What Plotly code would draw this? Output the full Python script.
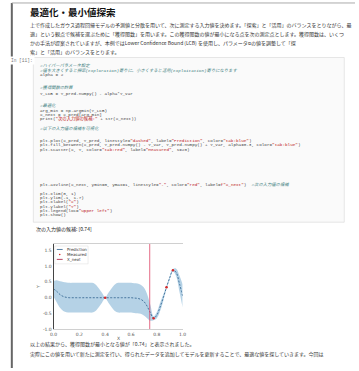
import re
import plotly.graph_objects as go

W, H = 359, 371

# ---------------- data ----------------
X_PRED = [0.0, 0.025, 0.05, 0.075, 0.1, 0.125, 0.15, 0.175, 0.2, 0.225,
          0.25, 0.275, 0.3, 0.325, 0.35, 0.375, 0.4, 0.425, 0.45, 0.475,
          0.5, 0.525, 0.55, 0.575, 0.6, 0.625, 0.65, 0.675, 0.7, 0.725,
          0.75, 0.775, 0.8, 0.825, 0.85, 0.875, 0.9, 0.925, 0.95, 0.975, 1.0]
Y_MEAN = [0.28, 0.20, 0.10, 0.04, 0.01, 0.0, 0.0, 0.0, 0.0, 0.0,
          0.0, 0.0, 0.0, 0.0, 0.0, 0.0, 0.0, 0.0, 0.0, 0.0,
          0.0, 0.0, 0.0, 0.0, 0.0, -0.01, -0.02, -0.05, -0.12, -0.27,
          -0.48, -0.65, -0.55, -0.30, 0.0, 0.33, 0.63, 0.87, 0.80, 0.45, 0.06]
Y_VAR = [0.25, 0.35, 0.42, 0.46, 0.47, 0.47, 0.47, 0.47, 0.47, 0.47,
         0.47, 0.47, 0.47, 0.42, 0.30, 0.16, 0.02, 0.16, 0.30, 0.42,
         0.47, 0.47, 0.47, 0.47, 0.47, 0.47, 0.47, 0.46, 0.44, 0.38,
         0.25, 0.06, 0.10, 0.13, 0.10, 0.05, 0.05, 0.04, 0.12, 0.25, 0.37]
X_MEASURED = [0.4, 0.775, 0.875, 0.925]
Y_MEASURED = [0.0, -0.65, 0.33, 0.87]
X_NEXT = 0.745

X_TICKS = [0.0, 0.2, 0.4, 0.6, 0.8, 1.0]
X_TICK_LABELS = ["0.0", "0.2", "0.4", "0.6", "0.8", "1.0"]
Y_TICKS = [-1.0, -0.5, 0.0, 0.5, 1.0, 1.5]
Y_TICK_LABELS = ["-1.0", "-0.5", "0.0", "0.5", "1.0", "1.5"]
LEGEND_LABELS = ["Prediction", "Measured", "X_next"]

TITLE = "最適化・最小値探索"
INTRO_LINES = [
    "上で作成したガウス過程回帰モデルの予測値と分散を用いて、次に測定する入力値を決めます。「探索」と「活用」のバランスをとりながら、最",
    "適」という観点で候補を選ぶために「獲得関数」を用います。この獲得関数の値が最小になる点を次の測定点とします。獲得関数は、いくつ",
    "かの手法が提案されていますが、本例ではLower Confidence Bound (LCB) を使用し、パラメータαの値を調整して「探",
    "索」と「活用」のバランスをとります。",
]
PROMPT = "In [11]:"
CODE_LINES = [
    "#ハイパーパラメータ設定",
    "#値を大きくすると探索(exploration)寄りに、小さくすると活用(exploitation)寄りになります",
    "alpha = 2",
    "#獲得関数の計算",
    "Y_LCB = Y_pred.numpy() - alpha*Y_var",
    "#最適化",
    "arg_min = np.argmin(Y_LCB)",
    "X_next = X_pred[arg_min]",
    "print(\"次の入力値の候補:\" + str(X_next))",
    "#以下の入力値の候補を可視化",
    "plt.plot(X_pred, Y_pred, linestyle=\"dashed\", label=\"Prediction\", color=\"tab:blue\")",
    "plt.fill_between(X_pred, Y_pred.numpy() - Y_var, Y_pred.numpy() + Y_var, alpha=0.3, color=\"tab:blue\")",
    "plt.scatter(X, Y, color=\"tab:red\", label=\"Measured\", s=20)",
    "plt.axvline(X_next, ymin=0, ymax=1, linestyle=\"-\", color=\"red\", label=f\"X_next\")  #次の入力値の候補",
    "plt.xlim(0, 1)",
    "plt.ylim(-1, 1.7)",
    "plt.xlabel(\"X\")",
    "plt.ylabel(\"Y\")",
    "plt.legend(loc=\"upper left\")",
    "plt.show()",
]
OUTPUT_TEXT = "次の入力値の候補: [0.74]"
OUTRO_LINES = [
    "以上の結果から、獲得関数が最小となる値が「0.74」と表示されました。",
    "実際にこの値を用いて新たに測定を行い、得られたデータを追加してモデルを更新することで、最適な値を探していきます。今回は",
]

# ---------------- layout helpers (pixel -> paper) ----------------
def P(px):
    return px / W


def Q(py):
    return 1 - py / H


CODE_Y = [66.5, 70.8, 75.0, 88.0, 94.5, 106.5, 111.0, 115.0, 119.3, 130.0,
          141.7, 146.0, 150.3, 185.7, 195.0, 199.3, 203.3, 207.7, 212.0, 216.7]

MONO = "Liberation Mono, Noto Sans CJK JP, monospace"
SANS = "Noto Sans CJK JP, Noto Sans, sans-serif"


def highlight(line):
    if line.lstrip().startswith("#"):
        return "<span style='color:#408080'><i>%s</i></span>" % line
    out = []
    pos = 0
    for m in re.finditer(r'f?"[^"]*"|#.*$', line):
        out.append(line[pos:m.start()])
        tok = m.group(0)
        if tok.startswith("#"):
            out.append("<span style='color:#408080'><i>%s</i></span>" % tok)
        else:
            out.append("<span style='color:#BA2121'>%s</span>" % tok)
        pos = m.end()
    out.append(line[pos:])
    return "".join(out)


# ---------------- figure ----------------
upper = [m + v for m, v in zip(Y_MEAN, Y_VAR)]
lower = [m - v for m, v in zip(Y_MEAN, Y_VAR)]

fig = go.Figure()
fig.add_trace(go.Scatter(x=X_PRED, y=upper, mode="lines", line=dict(width=0, shape="spline"),
                         showlegend=False, hoverinfo="skip"))
fig.add_trace(go.Scatter(x=X_PRED, y=lower, mode="lines", line=dict(width=0, shape="spline"),
                         fill="tonexty", fillcolor="rgba(31,119,180,0.33)",
                         showlegend=False, hoverinfo="skip"))
fig.add_trace(go.Scatter(x=X_PRED, y=Y_MEAN, mode="lines",
                         line=dict(color="#2a5d8a", width=0.8, dash="2px,1.5px", shape="spline"),
                         name=LEGEND_LABELS[0], showlegend=False))
fig.add_trace(go.Scatter(x=X_MEASURED, y=Y_MEASURED, mode="markers",
                         marker=dict(color="#d62728", size=2.5), name=LEGEND_LABELS[1], showlegend=False))
fig.add_trace(go.Scatter(x=[X_NEXT, X_NEXT], y=[-1, 1.7], mode="lines",
                         line=dict(color="#dd4466", width=0.8), name=LEGEND_LABELS[2], showlegend=False))

ax_l, ax_r, ax_t, ax_b = 50.7, 182.7, 246.0, 332.0

fig.update_layout(
    width=W, height=H, margin=dict(l=0, r=0, t=0, b=0),
    paper_bgcolor="white", plot_bgcolor="white",
    showlegend=False,
    xaxis=dict(domain=[P(ax_l), P(ax_r)], range=[0, 1], tickvals=X_TICKS, ticktext=X_TICK_LABELS,
               showgrid=False, zeroline=False, showline=True, linecolor="#d0d0d0", linewidth=0.8,
               mirror=True, ticks="", tickfont=dict(size=4.5, color="#555", family="DejaVu Sans")),
    yaxis=dict(domain=[Q(ax_b), Q(ax_t)], range=[-1, 1.7], tickvals=Y_TICKS, ticktext=Y_TICK_LABELS,
               showgrid=False, zeroline=False, showline=True, linecolor="#444", linewidth=1,
               ticks="", tickfont=dict(size=4.5, color="#555", family="DejaVu Sans")),
)

shapes = []
annotations = []

# page frame
shapes.append(dict(type="line", xref="paper", yref="paper", x0=P(8), x1=P(8), y0=Q(3), y1=Q(371),
                   line=dict(color="#666", width=2)))
shapes.append(dict(type="line", xref="paper", yref="paper", x0=P(8), x1=P(359), y0=Q(3), y1=Q(3),
                   line=dict(color="#aaa", width=1)))
# code cell box
shapes.append(dict(type="rect", xref="paper", yref="paper", x0=P(30), x1=P(348), y0=Q(224), y1=Q(58),
                   fillcolor="#fafafa", line=dict(color="#dedede", width=0.8), layer="below"))

# title and intro
annotations.append(dict(text="<b>%s</b>" % TITLE, x=P(25), y=Q(12.5), xref="paper", yref="paper",
                        xanchor="left", yanchor="middle", showarrow=False,
                        font=dict(size=9.5, color="#111", family=SANS)))
for i, line in enumerate(INTRO_LINES):
    annotations.append(dict(text=line, x=P(25), y=Q(25 + i * 9), xref="paper", yref="paper",
                            xanchor="left", yanchor="middle", showarrow=False,
                            font=dict(size=5, color="#333", family=SANS)))

annotations.append(dict(text=PROMPT, x=P(5), y=Q(61), xref="paper", yref="paper",
                        xanchor="left", yanchor="middle", showarrow=False, bgcolor="white",
                        font=dict(size=4.5, color="#777", family=MONO)))
for y, line in zip(CODE_Y, CODE_LINES):
    annotations.append(dict(text=highlight(line), x=P(35), y=Q(y), xref="paper", yref="paper",
                            xanchor="left", yanchor="middle", showarrow=False,
                            font=dict(size=4.3, color="#444", family=MONO)))
annotations.append(dict(text=OUTPUT_TEXT, x=P(31), y=Q(231), xref="paper", yref="paper",
                        xanchor="left", yanchor="middle", showarrow=False,
                        font=dict(size=5, color="#222", family=SANS)))

# axis labels
annotations.append(dict(text="X", x=P((ax_l + ax_r) / 2), y=Q(341.5), xref="paper", yref="paper",
                        xanchor="center", yanchor="middle", showarrow=False,
                        font=dict(size=4.5, color="#444", family="DejaVu Sans")))
annotations.append(dict(text="Y", x=P(35), y=Q(289), xref="paper", yref="paper",
                        xanchor="center", yanchor="middle", showarrow=False, textangle=-90,
                        font=dict(size=4.5, color="#444", family="DejaVu Sans")))

# legend (manual, matplotlib style)
shapes.append(dict(type="rect", xref="paper", yref="paper", x0=P(52), x1=P(86), y0=Q(266), y1=Q(248),
                   fillcolor="rgba(255,255,255,0.8)", line=dict(color="#e2e2e2", width=0.6)))
leg_y = [251.5, 256.5, 261.5]
shapes.append(dict(type="line", xref="paper", yref="paper", x0=P(54), x1=P(60), y0=Q(leg_y[0]), y1=Q(leg_y[0]),
                   line=dict(color="#2a5d8a", width=0.8, dash="dash")))
shapes.append(dict(type="circle", xref="paper", yref="paper", x0=P(56.2), x1=P(57.8), y0=Q(leg_y[1] + 0.8), y1=Q(leg_y[1] - 0.8),
                   fillcolor="#d62728", line=dict(width=0)))
shapes.append(dict(type="line", xref="paper", yref="paper", x0=P(54), x1=P(60), y0=Q(leg_y[2]), y1=Q(leg_y[2]),
                   line=dict(color="#b03050", width=0.9)))
for y, lab in zip(leg_y, LEGEND_LABELS):
    annotations.append(dict(text=lab, x=P(62), y=Q(y), xref="paper", yref="paper",
                            xanchor="left", yanchor="middle", showarrow=False,
                            font=dict(size=4, color="#333", family="DejaVu Sans")))

# outro
for i, line in enumerate(OUTRO_LINES):
    annotations.append(dict(text=line, x=P(25), y=Q(347 + i * 9.5), xref="paper", yref="paper",
                            xanchor="left", yanchor="middle", showarrow=False,
                            font=dict(size=5, color="#333", family=SANS)))

fig.update_layout(shapes=shapes, annotations=annotations)
fig.write_html("out.html")
